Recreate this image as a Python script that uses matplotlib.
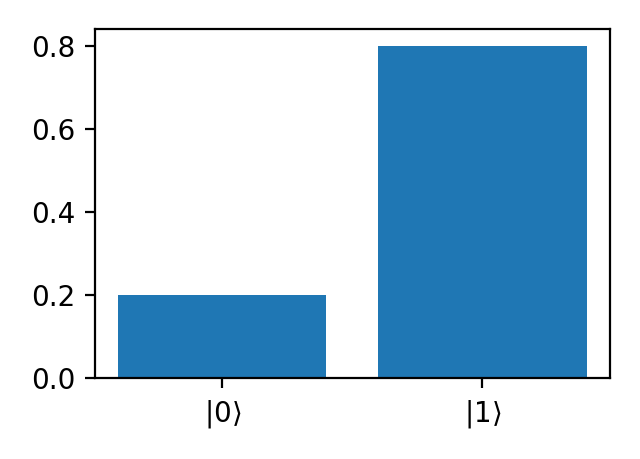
import matplotlib
matplotlib.use("Agg")
from matplotlib import pyplot as plt

# 测量概率
states = [r'$|0\rangle$', r'$|1\rangle$']
probs = [0.2, 0.8]

fig = plt.figure(figsize=(3.2, 2.295), dpi=200)
ax = fig.add_axes([0.148, 0.176, 0.805, 0.761])
ax.bar(states, probs, color='#1f77b4')
ax.set_yticks([0.0, 0.2, 0.4, 0.6, 0.8])
fig.savefig('out.png', dpi=200)
